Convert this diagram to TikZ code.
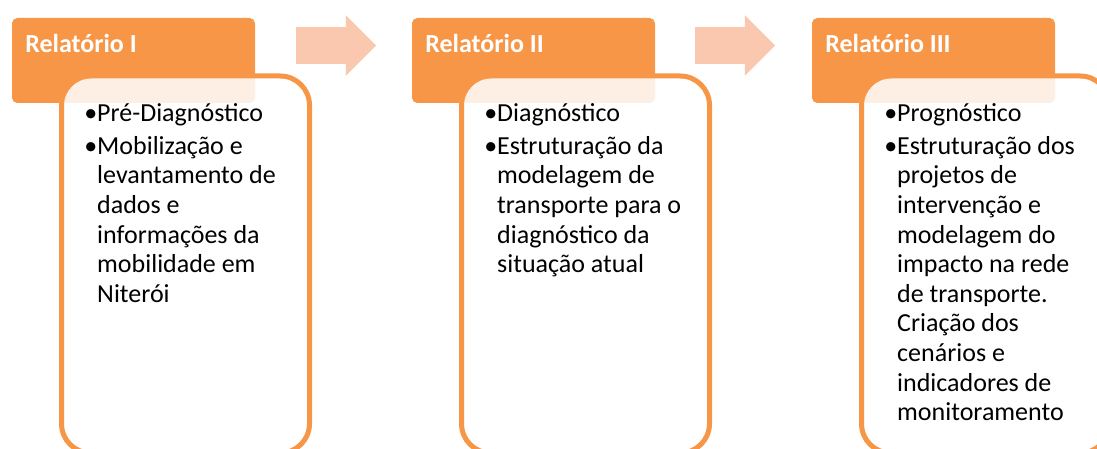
\documentclass[tikz,border=0pt]{standalone}
\usepackage{fontspec}
\setmainfont{Carlito}
\usetikzlibrary{shapes.arrows,positioning}
\definecolor{relorange}{HTML}{F79646}
\definecolor{relpeach}{HTML}{FAC8AE}
\tikzstyle{header}=[anchor=north west,fill=relorange,rounded corners=4pt,minimum width=182.25pt,minimum height=63.75pt,inner sep=0pt,outer sep=0pt]
\tikzstyle{title}=[anchor=base west,inner sep=0pt,text=white,font=\fontsize{19.5pt}{22pt}\selectfont\bfseries]
\tikzstyle{panel}=[anchor=north west,draw=relorange,line width=3.75pt,fill=white,fill opacity=0.85,rounded corners=22pt,minimum width=186pt,minimum height=282.75pt,inner sep=0pt,outer sep=0pt]
\tikzstyle{items}=[anchor=north west,inner sep=0pt,text=black,font=\fontsize{19.5pt}{22.2pt}\selectfont]
\tikzstyle{nextarrow}=[single arrow,fill=relpeach,minimum height=60pt,inner xsep=0pt,inner ysep=13.5pt,single arrow head extend=9pt,outer sep=0pt]

\begin{document}
\begin{tikzpicture}[x=0.75pt,y=-0.75pt]

	\useasboundingbox (0,0) rectangle (1097,449);
	\clip (0,0) rectangle (1097,449);

	% Relatorio I
	\node[header] (h1) at (12,18) {};
	\node[title] (t1) at (25,53) {Relatório I};
	\node[panel] (p1) at (61.5,76) {};
	\node[items] (l1) at (84,101) {\begin{tabular}{@{}l@{}l@{}}
		\textbullet & Pré-Diagnóstico\\[2pt]
		\textbullet & Mobilização e\\
		& levantamento de\\
		& dados e\\
		& informações da\\
		& mobilidade em\\
		& Niterói
	\end{tabular}};

	\node[nextarrow] (a1) at (327,45.5) {};

	% Relatorio II
	\node[header] (h2) at (412,18) {};
	\node[title] (t2) at (425,53) {Relatório II};
	\node[panel] (p2) at (461.5,76) {};
	\node[items] (l2) at (484,101) {\begin{tabular}{@{}l@{}l@{}}
		\textbullet & Diagnóstico\\[2pt]
		\textbullet & Estruturação da\\
		& modelagem de\\
		& transporte para o\\
		& diagnóstico da\\
		& situação atual
	\end{tabular}};

	\node[nextarrow] (a2) at (726,45.5) {};

	% Relatorio III
	\node[header] (h3) at (812,18) {};
	\node[title] (t3) at (825,53) {Relatório III};
	\node[panel] (p3) at (861.5,76) {};
	\node[items] (l3) at (884,101) {\begin{tabular}{@{}l@{}l@{}}
		\textbullet & Prognóstico\\[2pt]
		\textbullet & Estruturação dos\\
		& projetos de\\
		& intervenção e\\
		& modelagem do\\
		& impacto na rede\\
		& de transporte.\\
		& Criação dos\\
		& cenários e\\
		& indicadores de\\
		& monitoramento
	\end{tabular}};

\end{tikzpicture}
\end{document}
